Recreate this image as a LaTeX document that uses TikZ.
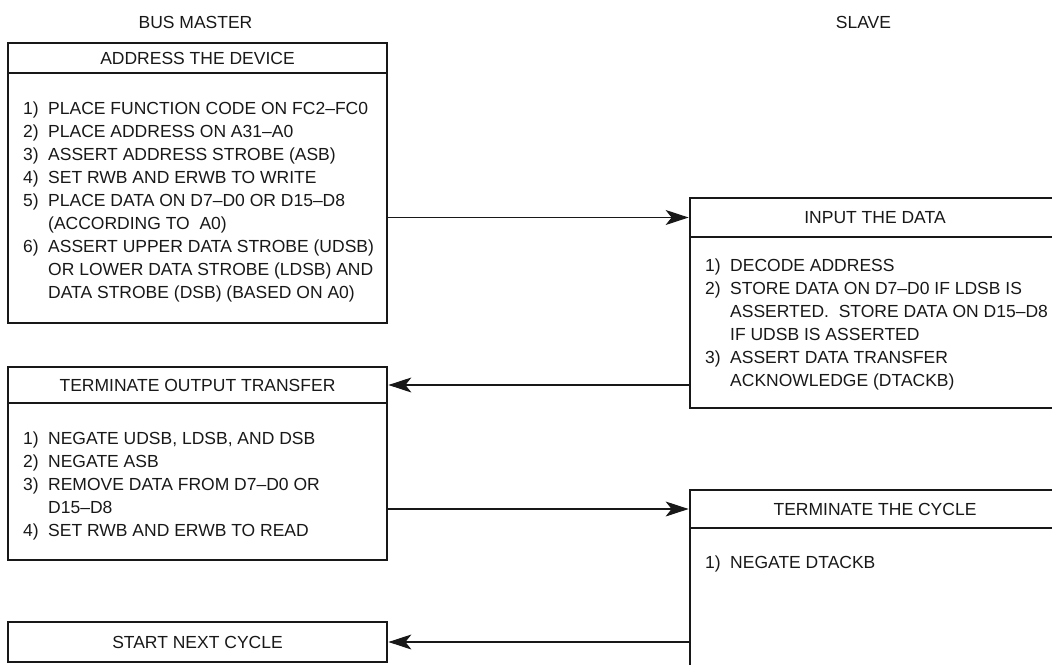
\documentclass[tikz,border=0pt]{standalone}
\usepackage{fontspec}
\setmainfont{Liberation Sans}
\usepackage{tikz}
\usetikzlibrary{arrows.meta, positioning, calc}
\definecolor{inkblack}{RGB}{24,24,24}

\newcommand{\stepno}[1]{\makebox[25pt][l]{#1}}
\newcommand{\stepgap}{\hspace*{25pt}}

\begin{document}
\begin{tikzpicture}[x=1pt, y=-1pt, font=\fontsize{17.5pt}{23pt}\selectfont, inkblack,
  frame/.style={draw=inkblack, line width=2.8pt, inner sep=0pt},
  head/.style={frame, text height=12.5pt, text depth=0pt},
  steps/.style={anchor=north west, inner sep=0pt, align=left},
  flow/.style={-{Stealth[length=23pt, width=15pt, inset=6pt]}, line width=1.1pt}]
  \useasboundingbox (0,0) rectangle (1052,664);
  \clip (0,0) rectangle (1052,664);
  % Column titles
  \node (master) at (195.5,22) {BUS MASTER};
  \node (slave) at (863.5,22) {SLAVE};
  % Address the device
  \node[head, minimum width=379pt, minimum height=30pt] (head1) at (197.5,58) {ADDRESS THE DEVICE};
  \node[frame, minimum width=379pt, minimum height=250pt] (body1) at (197.5,198) {};
  \node[steps] (list1) at (23,101.5) {\stepno{1)}PLACE FUNCTION CODE ON FC2–FC0\\
    \stepno{2)}PLACE ADDRESS ON A31–A0\\
    \stepno{3)}ASSERT ADDRESS STROBE (ASB)\\
    \stepno{4)}SET RWB AND ERWB TO WRITE\\
    \stepno{5)}PLACE DATA ON D7–D0 OR D15–D8\\
    \stepgap(ACCORDING TO\ \ A0)\\
    \stepno{6)}ASSERT UPPER DATA STROBE (UDSB)\\
    \stepgap OR LOWER DATA STROBE (LDSB) AND\\
    \stepgap DATA STROBE (DSB) (BASED ON A0)};
  % Input the data
  \node[head, minimum width=370pt, minimum height=39pt] (head2) at (875,217.5) {INPUT THE DATA};
  \node[frame, minimum width=370pt, minimum height=171pt] (body2) at (875,322.5) {};
  \node[steps] (list2) at (705,258.5) {\stepno{1)}DECODE ADDRESS\\
    \stepno{2)}STORE DATA ON D7–D0 IF LDSB IS\\
    \stepgap ASSERTED.\ \ STORE DATA ON D15–D8\\
    \stepgap IF UDSB IS ASSERTED\\
    \stepno{3)}ASSERT DATA TRANSFER\\
    \stepgap ACKNOWLEDGE (DTACKB)};
  % Terminate output transfer
  \node[head, minimum width=379pt, minimum height=36pt] (head3) at (197.5,385) {TERMINATE OUTPUT TRANSFER};
  \node[frame, minimum width=379pt, minimum height=157pt] (body3) at (197.5,481.5) {};
  \node[steps] (list3) at (23,431.5) {\stepno{1)}NEGATE UDSB, LDSB, AND DSB\\
    \stepno{2)}NEGATE ASB\\
    \stepno{3)}REMOVE DATA FROM D7–D0 OR\\
    \stepgap D15–D8\\
    \stepno{4)}SET RWB AND ERWB TO READ};
  % Terminate the cycle
  \node[head, minimum width=370pt, minimum height=38pt] (head4) at (875,509) {TERMINATE THE CYCLE};
  \node[frame, minimum width=370pt, minimum height=172pt] (body4) at (875,614) {};
  \node[steps] (list4) at (705,555.5) {\stepno{1)}NEGATE DTACKB};
  % Start next cycle
  \node[head, minimum width=379pt, minimum height=40pt] (start) at (197.5,642) {START NEXT CYCLE};
  % Handshake arrows
  \draw[flow] (head2.west -| body1.east) -- (head2.west);
  \draw[flow] (head3.east -| body2.west) -- (head3.east);
  \draw[flow] (head4.west -| body3.east) -- (head4.west);
  \draw[flow] (start.east -| body4.west) -- (start.east);
\end{tikzpicture}
\end{document}
